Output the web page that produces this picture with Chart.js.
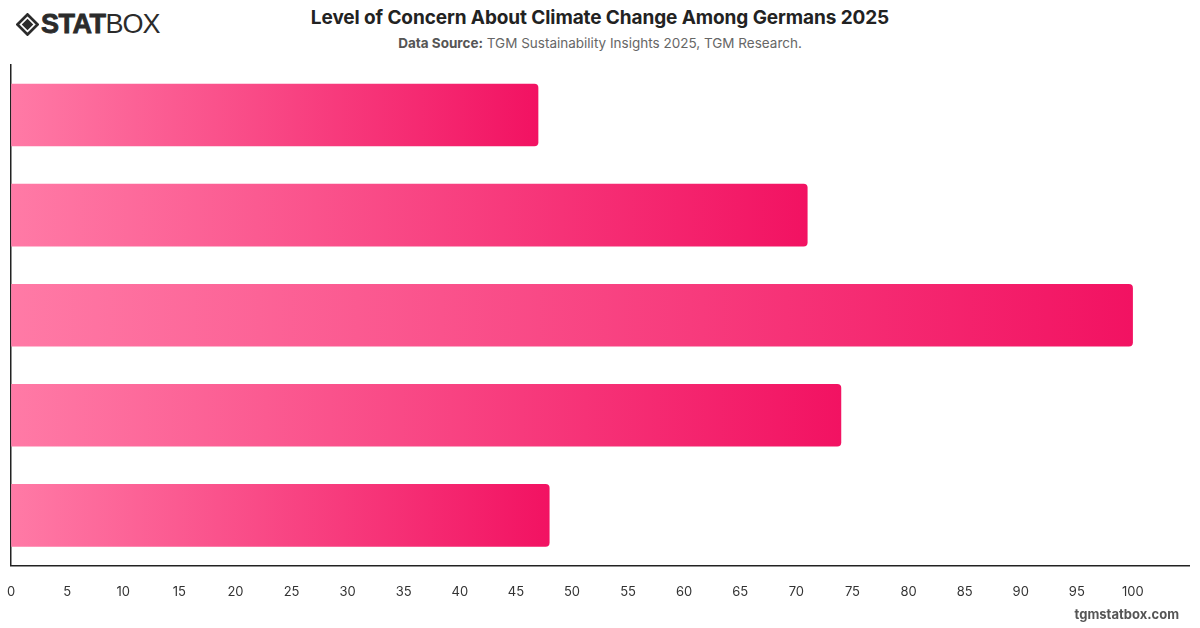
<!DOCTYPE html>
<html>
<head>
<meta charset="utf-8">
<script src="https://cdn.jsdelivr.net/npm/chart.js@4"></script>
<style>
  html, body { margin: 0; padding: 0; background: #fff; }
  body { width: 1200px; height: 628px; position: relative; overflow: hidden; font-family: Inter, "Liberation Sans", sans-serif; }
  .logo { position: absolute; left: 16px; top: 9px; display: flex; align-items: center; color: #2b2b2b; }
  .logo svg { margin-right: 2px; }
  .logo .stat { font-family: "Liberation Sans", Arial, sans-serif; font-weight: 900; font-size: 27px; letter-spacing: -0.5px; -webkit-text-stroke: 0.8px #2b2b2b; }
  .logo .box { font-family: "Liberation Sans", Arial, sans-serif; font-weight: 400; font-size: 27px; letter-spacing: -1px; }
  .title { position: absolute; left: 0; width: 1200px; top: 6px; text-align: center; font-size: 19px; font-weight: 700; color: #222; letter-spacing: -0.1px; }
  .subtitle { position: absolute; left: 0; width: 1200px; top: 35px; text-align: center; font-size: 13.5px; color: #666; }
  .subtitle b { font-weight: 700; color: #555; }
  .footer { position: absolute; right: 21px; top: 606px; font-size: 13px; font-weight: 700; color: #555; }
  .chart-wrap { position: absolute; left: -4px; top: 60px; width: 1204px; height: 551px; }
</style>
</head>
<body>
<div class="logo">
  <svg width="23" height="23" viewBox="0 0 24 24">
    <path d="M12 1.5 L22.5 12 L12 22.5 L1.5 12 Z" fill="none" stroke="#2b2b2b" stroke-width="2.8"/>
    <path d="M12 6 L18 12 L12 18 L6 12 Z" fill="#2b2b2b"/>
  </svg>
  <span class="stat">STAT</span><span class="box">BOX</span>
</div>
<div class="title">Level of Concern About Climate Change Among Germans 2025</div>
<div class="subtitle"><b>Data Source:</b> TGM Sustainability Insights 2025, TGM Research.</div>
<div class="chart-wrap"><canvas id="concernChart"></canvas></div>
<div class="footer">tgmstatbox.com</div>

<script>
// categories are not printed on the reference, kept here only as keys
const categories = ["Group 1", "Group 2", "Group 3", "Group 4", "Group 5"];
const concernValues = [47, 71, 100, 74, 48];
const axisMax = 105;
const axisStep = 5;

const barStart = "#ff7aa6";
const barEnd = "#f21262";

function barGradient(context) {
  const chart = context.chart;
  if (!chart.chartArea || !chart.scales.x) return barEnd;
  const xScale = chart.scales.x;
  const x0 = xScale.getPixelForValue(0);
  const x1 = xScale.getPixelForValue(context.raw);
  const g = chart.ctx.createLinearGradient(x0, 0, x1, 0);
  g.addColorStop(0, barStart);
  g.addColorStop(1, barEnd);
  return g;
}

window.addEventListener("load", () => {
  const ctx = document.getElementById("concernChart");

  new Chart(ctx, {
    type: "bar",
    data: {
      labels: categories,
      datasets: [{
        label: "Level of concern",
        data: concernValues,
        backgroundColor: barGradient,
        borderRadius: 4,
        borderSkipped: "start",
        barPercentage: 0.625,
        categoryPercentage: 1
      }]
    },
    options: {
      indexAxis: "y",
      responsive: true,
      maintainAspectRatio: false,
      animation: false,
      layout: { padding: { left: 7, right: 10, top: 5, bottom: 0 } },
      plugins: {
        legend: { display: false },
        tooltip: { enabled: false }
      },
      scales: {
        x: {
          min: 0,
          max: axisMax,
          ticks: {
            stepSize: axisStep,
            color: "#333",
            padding: 11,
            font: { family: "Inter", size: 13 },
            callback: (value) => (value > 100 ? "" : value)
          },
          grid: { display: false },
          border: { display: true, color: "#222", width: 1.5 }
        },
        y: {
          ticks: { display: false },
          grid: { display: false },
          border: { display: true, color: "#222", width: 1.5 },
          afterFit: (axis) => { axis.width = 0; }
        }
      }
    }
  });
});
</script>
</body>
</html>
